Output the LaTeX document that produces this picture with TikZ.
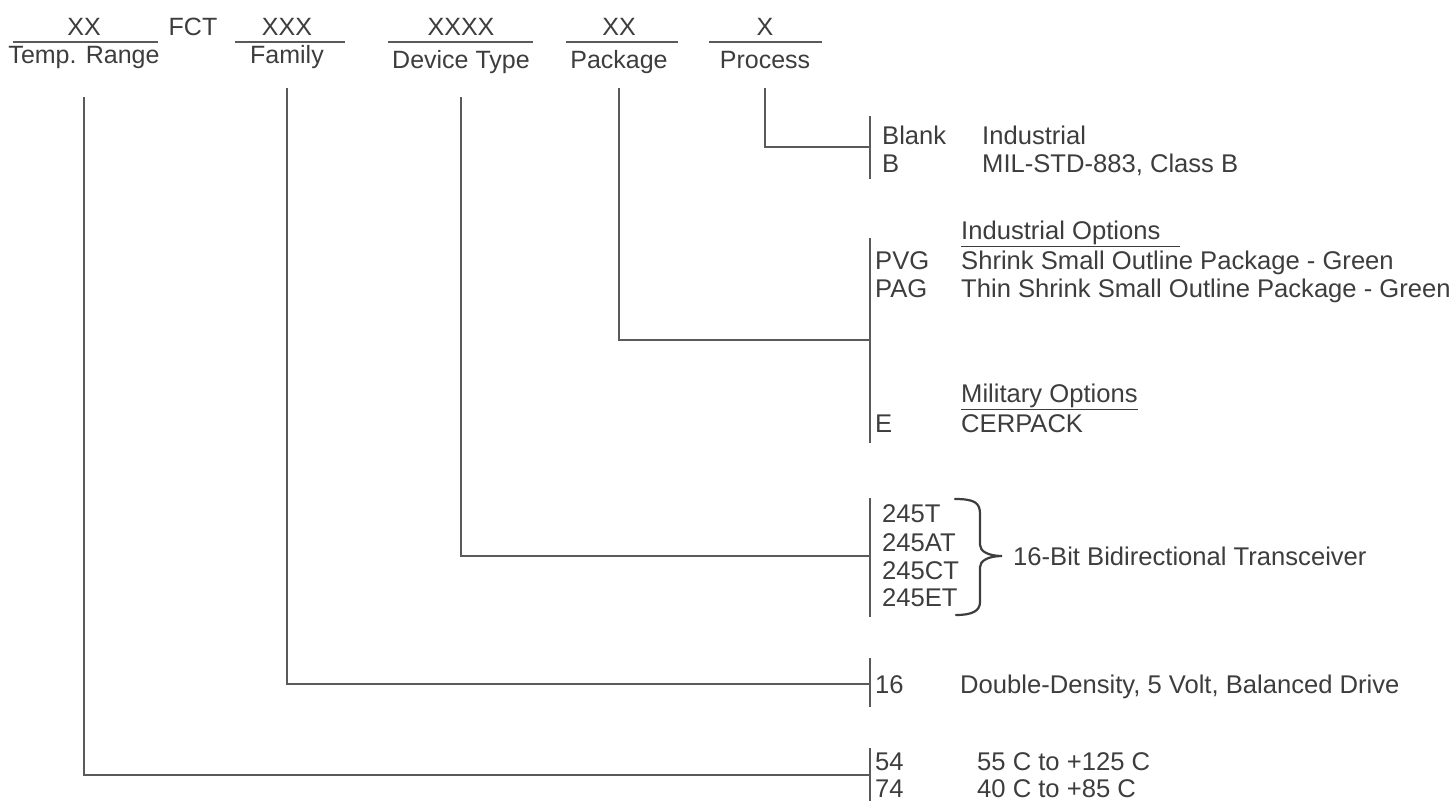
\documentclass[tikz,border=0pt]{standalone}
\usepackage{fontspec}
\setmainfont{Liberation Sans}
\usepackage{tikz}

\definecolor{ink}{HTML}{3D3D3D}
\definecolor{wire}{HTML}{5A5A5A}

\begin{document}
\begin{tikzpicture}[x=1pt,y=-1pt,
    every node/.style={text=ink, inner sep=0pt, font=\fontsize{25}{30}\selectfont},
    lead/.style={draw=wire, line width=1.5pt},
    codetxt/.style={anchor=base west, font=\fontsize{25.6}{31}\selectfont},
    desctxt/.style={anchor=base west, font=\fontsize{25.6}{31}\selectfont}]
        \useasboundingbox (0,0) rectangle (1455,801);

        % Code fields across the top
        \foreach \n/\x/\v/\l/\a/\b/\yb in {temp/84/XX/Temp. Range/13/158/63, fam/287/XXX/Family/235/345/63, dev/461/XXXX/Device Type/388/533/68, pkg/619/XX/Package/566/678/68, proc/765/X/Process/709/822/68} {
            \node[anchor=base] (\n-val) at (\x,35) {\v};
            \draw[lead] (\a,42) -- (\b,42);
            \node[anchor=base, text depth=0pt] (\n) at (\x,\yb) {\l};
        }
        \node[anchor=base] (fct) at (193,35) {FCT};

        % Bars on the right
        \draw[lead] (870,116) -- (870,179);
        \draw[lead] (870,238) -- (870,443);
        \draw[lead] (870,498) -- (870,617);
        \draw[lead] (870,658) -- (870,707);
        \draw[lead] (870,748) -- (870,801);

        \coordinate (procbar) at (870,147);
        \coordinate (pkgbar) at (870,340);
        \coordinate (devbar) at (870,556);
        \coordinate (fambar) at (870,684);
        \coordinate (tempbar) at (870,775);

        % Leads from each field down to its bar
        \foreach \n/\g in {temp/34, fam/25, dev/29, pkg/20, proc/20} {
            \draw[lead, shorten <=\g pt] (\n) |- (\n bar);
        }

        % Process
        \node[codetxt] (blank) at (882,144) {Blank};
        \node[desctxt] (indus) at (982,144) {Industrial};
        \node[codetxt] (clb) at (882,172) {B};
        \node[desctxt] (mil) at (982,172) {MIL-STD-883, Class B};

        % Package
        \node[desctxt] (indopt) at (961,239) {\underline{Industrial Options\hspace*{20pt}}};
        \node[codetxt] (pvg) at (875,269) {PVG};
        \node[desctxt] (ssop) at (961,269) {Shrink Small Outline Package - Green};
        \node[codetxt] (pag) at (875,297) {PAG};
        \node[desctxt] (tssop) at (961,297) {Thin Shrink Small Outline Package - Green};
        \node[desctxt] (milopt) at (961,402) {\underline{Military Options}};
        \node[codetxt] (e) at (875,432) {E};
        \node[desctxt] (cerpack) at (961,432) {CERPACK};

        % Device type
        \foreach \d/\y in {245T/522, 245AT/551, 245CT/579, 245ET/606} {
            \node[codetxt] (d\d) at (882,\y) {\d};
        }
        \draw[ink, line width=2.2pt, line cap=round]
            (955,499) .. controls (975,499) and (980,503) .. (980,514) -- (980,545)
            .. controls (980,551) and (988,556) .. (1002,556)
            .. controls (988,556) and (980,561) .. (980,567) -- (980,602)
            .. controls (980,611) and (972,615) .. (956,615);
        \node[anchor=west, font=\fontsize{25.6}{31}\selectfont] (xcvr) at (1013,556) {16-Bit Bidirectional Transceiver};

        % Family
        \node[codetxt] (f16) at (875,693) {16};
        \node[desctxt] (ddens) at (960,693) {Double-Density, 5 Volt, Balanced Drive};

        % Temperature range
        \node[codetxt] (t54) at (875,770) {54};
        \node[desctxt] (mrange) at (977,770) {55 C to +125 C};
        \node[codetxt] (t74) at (875,797) {74};
        \node[desctxt] (crange) at (977,797) {40 C to +85 C};
    \end{tikzpicture}
\end{document}
